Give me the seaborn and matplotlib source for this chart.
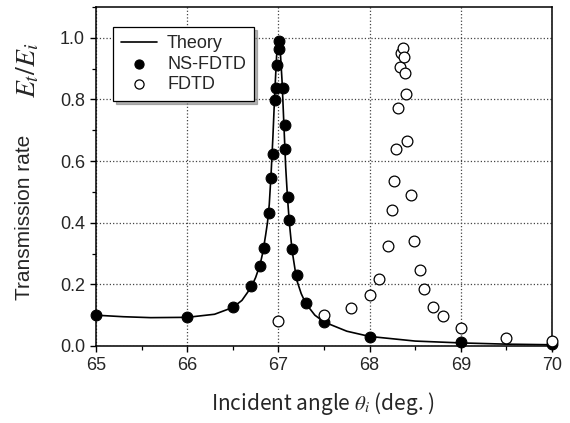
import numpy as np
import pandas as pd
import matplotlib
matplotlib.use("Agg")
import matplotlib.pyplot as plt
import seaborn as sns
from matplotlib.ticker import MultipleLocator

# theory curve
theory_x = [65.0, 65.3, 65.6, 66.0, 66.3, 66.5, 66.6, 66.7, 66.75, 66.8, 66.83,
            66.86, 66.88, 66.9, 66.92, 66.94, 66.96, 66.98, 67.0, 67.02, 67.04,
            67.06, 67.08, 67.1, 67.12, 67.15, 67.2, 67.25, 67.3, 67.4, 67.5,
            67.75, 68.0, 68.5, 69.0, 69.5, 70.0]
theory_y = [0.100, 0.095, 0.092, 0.093, 0.103, 0.125, 0.148, 0.190, 0.222, 0.265, 0.305,
            0.360, 0.400, 0.460, 0.560, 0.680, 0.820, 0.940, 1.000, 0.960, 0.860,
            0.720, 0.580, 0.480, 0.400, 0.310, 0.215, 0.170, 0.138, 0.100, 0.078,
            0.048, 0.031, 0.016, 0.010, 0.006, 0.004]

# NS-FDTD (filled circles)
nsfdtd_x = [65.0, 66.0, 66.5, 66.7, 66.8, 66.84, 66.9, 66.92, 66.94, 66.965, 66.97,
            66.985, 67.01, 67.01, 67.05, 67.07, 67.07, 67.1, 67.12, 67.15, 67.2,
            67.3, 67.5, 68.0, 69.0, 70.0]
nsfdtd_y = [0.100, 0.095, 0.125, 0.196, 0.259, 0.319, 0.432, 0.545, 0.622, 0.797, 0.838,
            0.911, 0.990, 0.965, 0.838, 0.718, 0.639, 0.484, 0.408, 0.315, 0.232,
            0.140, 0.079, 0.028, 0.012, 0.006]

# FDTD (open circles)
fdtd_x = [67.0, 67.5, 67.8, 68.0, 68.1, 68.2, 68.25, 68.27, 68.29, 68.315, 68.33,
          68.34, 68.365, 68.38, 68.39, 68.4, 68.41, 68.45, 68.49, 68.55, 68.6,
          68.69, 68.8, 69.0, 69.5, 70.0]
fdtd_y = [0.082, 0.100, 0.123, 0.164, 0.217, 0.324, 0.440, 0.534, 0.639, 0.773, 0.905,
          0.952, 0.968, 0.938, 0.887, 0.818, 0.664, 0.490, 0.342, 0.247, 0.186,
          0.126, 0.098, 0.058, 0.025, 0.015]

df_th = pd.DataFrame({"x": theory_x, "y": theory_y})
df_ns = pd.DataFrame({"x": nsfdtd_x, "y": nsfdtd_y})
df_fd = pd.DataFrame({"x": fdtd_x, "y": fdtd_y})

sns.set_theme(style="ticks")
plt.rcParams["font.family"] = ["Liberation Sans", "DejaVu Sans"]
plt.rcParams["mathtext.fontset"] = "stix"
plt.rcParams["axes.linewidth"] = 1.1
plt.rcParams["xtick.direction"] = "out"
plt.rcParams["ytick.direction"] = "out"

fig = plt.figure(figsize=(5.7, 4.23), dpi=100)
ax = fig.add_axes([96 / 570, 1 - 346 / 423, 456 / 570, 339 / 423])

sns.lineplot(data=df_th, x="x", y="y", ax=ax, color="black", lw=1.2,
             label="Theory", sort=False, zorder=3)
sns.scatterplot(data=df_ns, x="x", y="y", ax=ax, color="black", s=60,
                edgecolor="black", linewidth=0.8, label="NS-FDTD", zorder=4,
                clip_on=False)
sns.scatterplot(data=df_fd, x="x", y="y", ax=ax, facecolor="white", s=60,
                edgecolor="black", linewidth=0.9, label="FDTD", zorder=4,
                clip_on=False)

ax.set_xlim(65, 70)
ax.set_ylim(0, 1.1)
ax.xaxis.set_major_locator(MultipleLocator(1))
ax.xaxis.set_minor_locator(MultipleLocator(0.5))
ax.yaxis.set_major_locator(MultipleLocator(0.2))
ax.yaxis.set_minor_locator(MultipleLocator(0.1))
ax.yaxis.set_major_formatter(lambda v, p: f"{v:.1f}")
ax.tick_params(which="major", length=4.5, width=1.0, labelsize=13, pad=3.5,
               color="black")
ax.tick_params(which="minor", length=3, width=0.9, color="black")
ax.grid(True, which="major", linestyle=":", color="#444444", lw=0.9, zorder=0)
for s in ax.spines.values():
    s.set_visible(True)
    s.set_color("black")
ax.set_xlabel("")
ax.set_ylabel("")

# legend oben links mit grauem schatten
leg = ax.legend(loc="upper left", bbox_to_anchor=(0.037, 0.94), fontsize=13,
                frameon=True, fancybox=False, edgecolor="black", facecolor="white",
                shadow={"color": "gray", "alpha": 0.6}, markerscale=0.85,
                handlelength=2.0, handletextpad=0.55, labelspacing=0.18,
                borderpad=0.45, borderaxespad=0)
leg.get_frame().set_linewidth(0.9)

fig.text(25 / 570, 1 - 217 / 423, "Transmission rate", rotation=90,
         ha="center", va="center", fontsize=15)
fig.text(28 / 570, 1 - 70 / 423, r"$E_t/E_i$", rotation=90,
         ha="center", va="center", fontsize=20)
fig.text(323 / 570, 1 - 403 / 423, r"Incident angle $\theta_i$ (deg. )",
         ha="center", va="center", fontsize=15,
         family=["Noto Sans CJK JP", "DejaVu Sans"])

fig.savefig("out.png", dpi=100)
